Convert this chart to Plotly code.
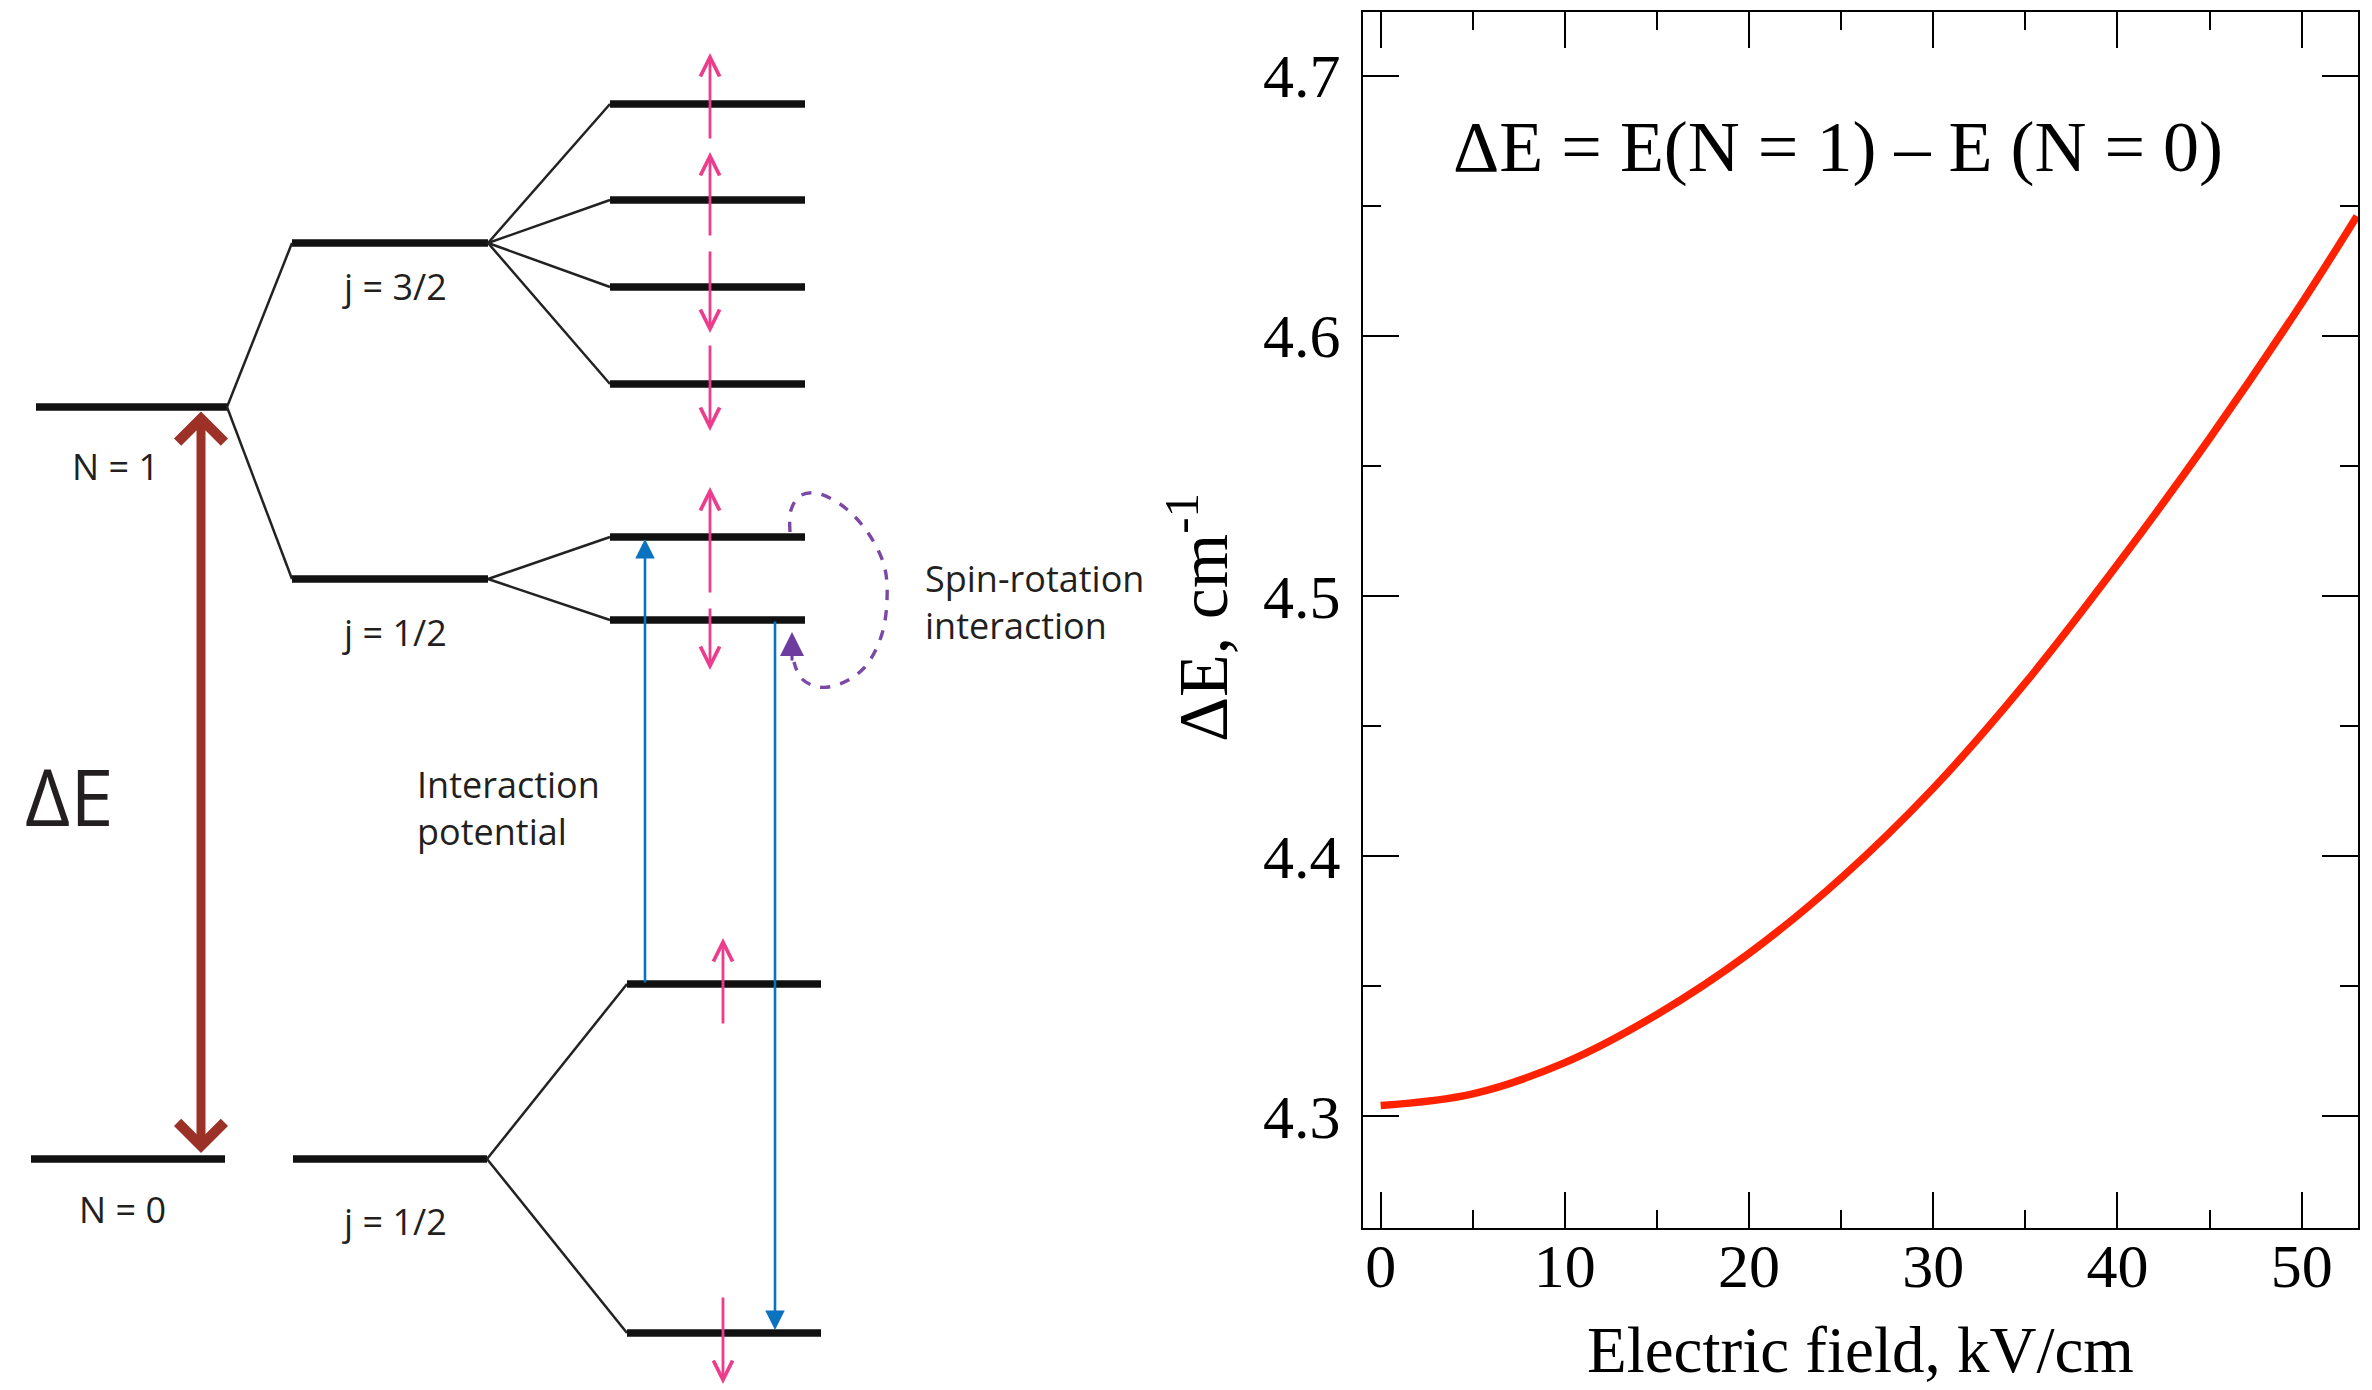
import plotly.graph_objects as go

# ---------------- right panel data ----------------
field_kv_cm = [0, 5, 10, 15, 20, 25, 30, 35, 40, 45, 50, 53]
delta_e_cm = [4.304, 4.3085, 4.3205, 4.339, 4.3625, 4.3915, 4.426, 4.4665, 4.512, 4.5605, 4.6125, 4.646]
x_tick_vals = [0, 10, 20, 30, 40, 50]
x_tick_text = ["0", "10", "20", "30", "40", "50"]
y_tick_vals = [4.3, 4.4, 4.5, 4.6, 4.7]
y_tick_text = ["4.3", "4.4", "4.5", "4.6", "4.7"]

# ---------------- left panel: energy-level schematic (pixel units) ----------------
level_x_start = [36, 31, 292, 292, 293, 610, 610, 610, 610, 610, 610, 627, 627]
level_x_end = [227, 225, 488, 488, 487, 805, 805, 805, 805, 805, 805, 821, 821]
level_y = [407, 1159, 243, 579, 1159, 104, 200, 287, 384, 537, 620, 984, 1333]

conn_x0 = [227, 227, 488, 488, 488, 488, 488, 488, 487, 487]
conn_y0 = [407, 407, 243, 243, 243, 243, 579, 579, 1159, 1159]
conn_x1 = [292, 292, 610, 610, 610, 610, 610, 610, 627, 627]
conn_y1 = [243, 579, 104, 200, 287, 384, 537, 620, 984, 1333]

pink_x = [710, 710, 710, 710, 710, 710, 723, 723]
pink_tail_y = [140, 237, 250, 344, 594, 607, 1025, 1296]
pink_head_y = [53, 152, 333, 431, 487, 670, 938, 1384]

blue_x = [645, 775]
blue_tail_y = [984, 620]
blue_head_y = [539, 1330]

brown_x = 201
brown_y_ends = [410, 1153]

loop_x = [790, 791, 800, 815, 840, 866, 884, 887, 881, 864, 840, 818, 801, 794]
loop_y = [532, 510, 496, 493, 504, 530, 565, 600, 637, 668, 684, 687, 678, 662]

label_text = ["N = 1", "N = 0", "j = 3/2", "j = 1/2", "j = 1/2"]
label_x = [115, 122, 394, 394, 394]
label_y = [466, 1209, 286, 632, 1221]

W, H = 2372, 1390
TXT = "#231F20"
SANS = "Open Sans"
SERIF = "Liberation Serif, Times New Roman, serif"

fig = go.Figure()

# right panel curve
fig.add_trace(go.Scatter(
    x=field_kv_cm, y=delta_e_cm, mode="lines",
    line=dict(color="#FF2200", width=7.5, shape="spline", smoothing=1.0),
    xaxis="x", yaxis="y", hoverinfo="skip"))

# levels
lx, ly = [], []
for a, b, y in zip(level_x_start, level_x_end, level_y):
    lx += [a, b, None]
    ly += [y, y, None]
fig.add_trace(go.Scatter(x=lx, y=ly, mode="lines", line=dict(color="#111111", width=7.5),
                         xaxis="x2", yaxis="y2", hoverinfo="skip"))

# connectors
cx, cy = [], []
for a, b, c, d in zip(conn_x0, conn_y0, conn_x1, conn_y1):
    cx += [a, c, None]
    cy += [b, d, None]
fig.add_trace(go.Scatter(x=cx, y=cy, mode="lines", line=dict(color="#222222", width=2.5),
                         xaxis="x2", yaxis="y2", hoverinfo="skip"))

# purple dashed loop
fig.add_trace(go.Scatter(x=loop_x, y=loop_y, mode="lines",
                         line=dict(color="#7B48A6", width=3.4, dash="dash", shape="spline"),
                         xaxis="x2", yaxis="y2", hoverinfo="skip"))

annotations = []

def arrow(x, y, ax, ay, color, width, head, size, side="end"):
    annotations.append(dict(
        x=x, y=y, ax=ax, ay=ay, xref="x2", yref="y2", axref="x2", ayref="y2",
        text="", showarrow=True, arrowcolor=color, arrowwidth=width,
        arrowhead=head, arrowsize=size, startarrowhead=head, startarrowsize=size,
        arrowside=side, standoff=0, startstandoff=0))

for px, t, h in zip(pink_x, pink_tail_y, pink_head_y):
    arrow(px, h, px, t, "#EC3D8D", 2.8, 5, 1.35)

for bx, t, h in zip(blue_x, blue_tail_y, blue_head_y):
    arrow(bx, h, bx, t, "#0A72BE", 2.6, 2, 1.5)

arrow(brown_x, brown_y_ends[1], brown_x, brown_y_ends[0], "#9C3128", 9, 4, 1.0, side="end+start")

# purple small arrow head
arrow(792, 632, 792, 662, "#6E3C9E", 3, 2, 1.6)

for t, x, y in zip(label_text, label_x, label_y):
    annotations.append(dict(x=x, y=y, xref="x2", yref="y2", text=t, showarrow=False,
                            font=dict(family=SANS, size=36, color=TXT),
                            xanchor="center", yanchor="middle"))

annotations.append(dict(x=69, y=796, xref="x2", yref="y2", text="ΔE", showarrow=False,
                        font=dict(family=SANS, size=78, color=TXT), xanchor="center", yanchor="middle"))
annotations.append(dict(x=415, y=808, xref="x2", yref="y2", text="Interaction<br>potential",
                        showarrow=False, align="left",
                        font=dict(family=SANS, size=36, color=TXT), xanchor="left", yanchor="middle"))
annotations.append(dict(x=923, y=602, xref="x2", yref="y2", text="Spin-rotation<br>interaction",
                        showarrow=False, align="left",
                        font=dict(family=SANS, size=36, color=TXT), xanchor="left", yanchor="middle"))

# right-panel texts
annotations.append(dict(x=1838, y=147, xref="x2", yref="y2",
                        text="ΔE = E(N = 1) – E (N = 0)", showarrow=False,
                        font=dict(family=SERIF, size=72, color="black"),
                        xanchor="center", yanchor="middle"))
annotations.append(dict(x=1860, y=1350, xref="x2", yref="y2",
                        text="Electric field, kV/cm", showarrow=False,
                        font=dict(family=SERIF, size=65, color="black"),
                        xanchor="center", yanchor="middle"))
annotations.append(dict(x=1198, y=618, xref="x2", yref="y2",
                        text="ΔE, cm<sup>-1</sup>", showarrow=False, textangle=-90,
                        font=dict(family=SERIF, size=70, color="black"),
                        xanchor="center", yanchor="middle"))

x0p, x1p = 1363 / W, 2358 / W
y0p, y1p = 1 - 1228 / H, 1 - 12 / H

axis_common = dict(showgrid=False, zeroline=False, showline=True, linecolor="black",
                   linewidth=2, mirror="allticks", ticks="inside", ticklen=36,
                   tickwidth=2, tickcolor="black",
                   tickfont=dict(family=SERIF, size=62, color="black"))

fig.update_layout(
    width=W, height=H, margin=dict(l=0, r=0, t=0, b=0, pad=0),
    paper_bgcolor="white", plot_bgcolor="rgba(0,0,0,0)", showlegend=False,
    xaxis=dict(domain=[x0p, x1p], range=[-0.96, 53.06], tickvals=x_tick_vals,
               ticktext=x_tick_text, anchor="y", ticklabelstandoff=-17,
               minor=dict(dtick=5, tick0=0, ticklen=18, tickwidth=2, tickcolor="black",
                          ticks="inside", showgrid=False),
               **axis_common),
    yaxis=dict(domain=[y0p, y1p], range=[4.2569, 4.7245], tickvals=y_tick_vals,
               ticktext=y_tick_text, anchor="x", ticklabelstandoff=8,
               minor=dict(dtick=0.05, tick0=4.3, ticklen=18, tickwidth=2, tickcolor="black",
                          ticks="inside", showgrid=False),
               **axis_common),
    xaxis2=dict(domain=[0, 1], range=[0, W], visible=False, anchor="y2", fixedrange=True),
    yaxis2=dict(domain=[0, 1], range=[H, 0], visible=False, anchor="x2", fixedrange=True),
    annotations=annotations,
)

fig.write_html("out.html")
